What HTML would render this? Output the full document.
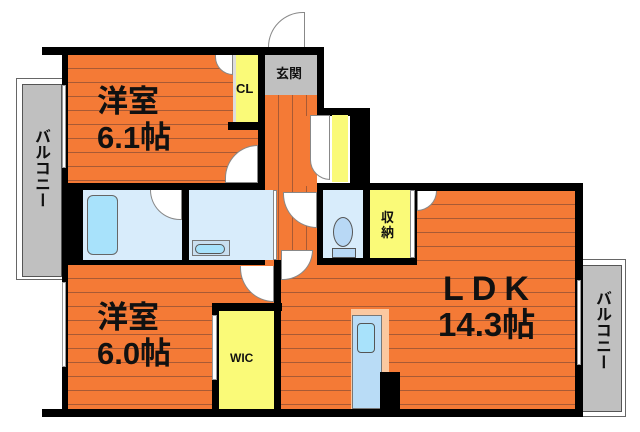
<!DOCTYPE html>
<html><head><meta charset="utf-8"><style>
body{margin:0;width:640px;height:432px;background:#fff;position:relative;overflow:hidden;font-family:"Liberation Sans","Noto Sans CJK JP",sans-serif}
div{position:absolute;box-sizing:border-box}
.b{background:#000}
.o{background:repeating-linear-gradient(180deg,#f47a36 0,#f47a36 13px,#a85a35 13px,#a85a35 14px)}
.ov{background:repeating-linear-gradient(90deg,#f47a36 0,#f47a36 13px,#a85a35 13px,#a85a35 14px)}
.y{background:#fafa78}
.lb{background:#d8ecfb}
.g{background:#c0c0c0}
.t{font-weight:bold;color:#111;white-space:nowrap;line-height:1}
.door{border:1px solid #888;background:#fff}
</style></head><body>
<!-- balconies -->
<div style="left:16px;top:78px;width:47px;height:202px;border:1px solid #666;background:#fff"></div>
<div class="g" style="left:22px;top:84px;width:40px;height:193px;border:1px solid #555"></div>
<div class="t" style="left:32px;top:128px;font-size:16px;writing-mode:vertical-rl">バルコニー</div>
<div style="left:580px;top:259px;width:46px;height:158px;border:1px solid #666;background:#fff"></div>
<div class="g" style="left:582px;top:265px;width:40px;height:147px;border:1px solid #555"></div>
<div class="t" style="left:593px;top:290px;font-size:16px;writing-mode:vertical-rl">バルコニー</div>

<!-- walls backdrop -->
<div class="b" style="left:42px;top:47px;width:282px;height:8px"></div>
<div class="b" style="left:62px;top:47px;width:8px;height:370px"></div>
<div class="b" style="left:42px;top:409px;width:540px;height:8px"></div>
<div class="b" style="left:575px;top:183px;width:8px;height:234px"></div>
<div class="b" style="left:317px;top:47px;width:7px;height:70px"></div>
<div class="b" style="left:317px;top:108px;width:53px;height:8px"></div>
<div class="b" style="left:350px;top:108px;width:20px;height:80px"></div>
<div class="b" style="left:315px;top:183px;width:268px;height:8px"></div>
<div class="b" style="left:62px;top:183px;width:220px;height:85px"></div>
<div class="b" style="left:315px;top:183px;width:102px;height:85px"></div>

<!-- LDK -->
<div class="o" style="left:275px;top:265px;width:300px;height:144px"></div>
<div class="o" style="left:417px;top:191px;width:158px;height:80px"></div>

<!-- room 1 -->
<div class="o" style="left:68px;top:55px;width:190px;height:128px"></div>
<div class="b" style="left:258px;top:55px;width:7px;height:130px"></div>
<div class="y" style="left:233px;top:55px;width:25px;height:67px;border-left:3px solid #ddd"></div>
<div class="b" style="left:228px;top:122px;width:30px;height:8px"></div>
<div class="t" style="left:236px;top:82px;font-size:13px">CL</div>
<div class="door" style="left:215px;top:55px;width:18px;height:20px;border-radius:0 0 0 18px;border-top:none"></div>
<div class="door" style="left:225px;top:145px;width:33px;height:38px;border-radius:33px 0 0 0"></div>

<!-- hall -->
<div class="g" style="left:265px;top:55px;width:52px;height:40px"></div>
<div class="t" style="left:276px;top:67px;font-size:13px">玄関</div>
<div class="ov" style="left:265px;top:95px;width:52px;height:170px"></div>
<div class="ov" style="left:305px;top:116px;width:12px;height:70px"></div>
<div class="y" style="left:332px;top:115px;width:16px;height:67px"></div>
<div class="door" style="left:310px;top:115px;width:20px;height:65px;border-radius:0 0 0 20px"></div>
<div class="door" style="left:268px;top:12px;width:37px;height:35px;border-radius:37px 0 0 0;border-bottom:none"></div>

<!-- bath row -->
<div class="lb" style="left:83px;top:190px;width:99px;height:70px"></div>
<div style="left:87px;top:195px;width:31px;height:60px;background:#a8e2fb;border:1px solid #666;border-radius:6px"></div>
<div class="lb" style="left:189px;top:190px;width:86px;height:70px"></div>
<div style="left:192px;top:240px;width:38px;height:16px;background:#c9dff0;border:1px solid #777"></div>
<div style="left:195px;top:244px;width:30px;height:10px;background:#a8e2fb;border:1px solid #555;border-radius:5px"></div>
<div style="left:273px;top:190px;width:4px;height:70px;background:#fff;border:1px solid #888"></div>
<div class="door" style="left:150px;top:190px;width:32px;height:30px;border-radius:0 0 0 32px;border-top:none"></div>
<div class="door" style="left:283px;top:192px;width:34px;height:36px;border-radius:0 0 0 34px"></div>

<div class="lb" style="left:323px;top:190px;width:40px;height:68px"></div>
<div style="left:333px;top:217px;width:20px;height:30px;background:#b8d8f5;border:1px solid #555;border-radius:50%"></div>
<div style="left:332px;top:248px;width:24px;height:10px;background:#b8d8f5;border:1px solid #555"></div>
<div class="y" style="left:370px;top:190px;width:40px;height:68px"></div>
<div class="t" style="left:381px;top:210px;font-size:13px;line-height:15px;white-space:normal;width:14px">収納</div>
<div style="left:410px;top:190px;width:5px;height:68px;background:#fff;border:1px solid #888"></div>

<!-- room 2 -->
<div class="o" style="left:68px;top:265px;width:208px;height:144px"></div>
<div class="b" style="left:274px;top:260px;width:7px;height:150px"></div>
<div class="b" style="left:212px;top:303px;width:70px;height:8px"></div>
<div class="b" style="left:212px;top:303px;width:7px;height:110px"></div>
<div class="y" style="left:219px;top:311px;width:55px;height:98px"></div>
<div class="t" style="left:230px;top:352px;font-size:12px">WIC</div>
<div class="door" style="left:240px;top:266px;width:34px;height:36px;border-radius:0 0 0 34px;border-top:none"></div>
<div class="door" style="left:281px;top:250px;width:32px;height:30px;border-radius:0 0 32px 0"></div>
<div class="door" style="left:417px;top:191px;width:20px;height:20px;border-radius:0 0 20px 0;border-top:none"></div>

<div style="left:351px;top:309px;width:38px;height:100px;background:#fbc8a0"></div>
<div style="left:352px;top:315px;width:30px;height:94px;background:#b9dcf6;border:1px solid #777"></div>
<div style="left:357px;top:323px;width:18px;height:30px;background:#a8e2fb;border:1px solid #555;border-radius:4px"></div>
<div class="b" style="left:380px;top:372px;width:20px;height:40px"></div>

<!-- windows -->
<div style="left:62px;top:85px;width:4px;height:83px;background:#fff;border:1px solid #999"></div>
<div style="left:62px;top:282px;width:4px;height:85px;background:#fff;border:1px solid #999"></div>
<div style="left:577px;top:280px;width:4px;height:85px;background:#fff;border:1px solid #999"></div>
<div style="left:212px;top:315px;width:5px;height:65px;background:#fff;border:1px solid #999"></div>

<!-- labels -->
<div class="t" style="left:97px;top:86px;font-size:31px">洋室</div>
<div class="t" style="left:97px;top:122px;font-size:31px">6.1帖</div>
<div class="t" style="left:97px;top:302px;font-size:31px">洋室</div>
<div class="t" style="left:97px;top:338px;font-size:31px">6.0帖</div>
<div class="t" style="left:443px;top:272px;font-size:34px;letter-spacing:8px">LDK</div>
<div class="t" style="left:438px;top:308px;font-size:33px">14.3帖</div>
</body></html>
